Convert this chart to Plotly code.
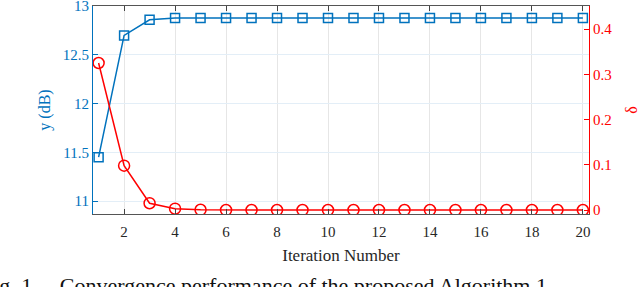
import plotly.graph_objects as go

iterations = list(range(1, 21))
y_db = [11.45, 12.70, 12.86, 12.88, 12.88, 12.88, 12.88, 12.88, 12.88, 12.88,
        12.88, 12.88, 12.88, 12.88, 12.88, 12.88, 12.88, 12.88, 12.88, 12.88]
delta = [0.325, 0.098, 0.015, 0.003, 0.0005, 0, 0, 0, 0, 0,
         0, 0, 0, 0, 0, 0, 0, 0, 0, 0]
x_ticks = [2, 4, 6, 8, 10, 12, 14, 16, 18, 20]
y_ticks = [11, 11.5, 12, 12.5, 13]
d_ticks = [0, 0.1, 0.2, 0.3, 0.4]

BLUE = "#0072BD"
RED = "#FF0000"
FONT = "Liberation Serif"

fig = go.Figure()
fig.add_trace(go.Scatter(
    x=iterations, y=y_db, mode="lines+markers",
    line=dict(color=BLUE, width=1.5),
    marker=dict(symbol="square-open", size=9, color=BLUE, line=dict(width=1.5)),
    yaxis="y", showlegend=False))
fig.add_trace(go.Scatter(
    x=iterations, y=delta, mode="lines+markers",
    line=dict(color=RED, width=1.5),
    marker=dict(symbol="circle-open", size=11, color=RED, line=dict(width=1.5)),
    yaxis="y2", showlegend=False))

fig.update_layout(
    width=640, height=287,
    margin=dict(l=93, r=51, t=6, b=73, autoexpand=False),
    paper_bgcolor="white", plot_bgcolor="white",
    font=dict(family=FONT, size=15, color="#262626"),
    xaxis=dict(
        range=[0.78, 20.24], tickvals=x_ticks, ticks="inside", ticklen=5,
        showline=True, linecolor="#555555", linewidth=1, mirror="ticks",
        showgrid=True, gridcolor="#E6E6E6", zeroline=False, automargin=False,
        ticklabelstandoff=4,
        tickfont=dict(family=FONT, size=15, color="#262626"),
        title=dict(text="Iteration Number", font=dict(family=FONT, size=17, color="#262626"), standoff=10),
    ),
    yaxis=dict(
        range=[10.867, 13.002], tickvals=y_ticks, ticktext=["11", "11.5", "12", "12.5", "13"],
        ticks="inside", ticklen=5, tickcolor=BLUE, ticklabeloverflow="allow",
        showline=True, linecolor=BLUE, linewidth=1, automargin=False,
        showgrid=True, gridcolor="#E3EEF7", zeroline=False,
        tickfont=dict(family=FONT, size=15, color=BLUE),
        title=dict(text="y (dB)", font=dict(family=FONT, size=16, color=BLUE), standoff=8),
    ),
    yaxis2=dict(
        range=[-0.0088, 0.451], tickvals=d_ticks, overlaying="y", side="right",
        ticks="inside", ticklen=5, tickcolor=RED, ticklabeloverflow="allow",
        showline=True, linecolor=RED, linewidth=1, automargin=False,
        showgrid=False, zeroline=False,
        tickfont=dict(family=FONT, size=15, color=RED),
        title=dict(text="δ", font=dict(family=FONT, size=16, color=RED), standoff=16),
    ),
    annotations=[dict(
        text="Fig. 1.&nbsp;&nbsp;&nbsp;&nbsp;Convergence performance of the proposed Algorithm 1.",
        xref="paper", yref="paper", x=-0.230, y=-0.276, xanchor="left", yanchor="top",
        showarrow=False, font=dict(family=FONT, size=22, color="#111111"))],
)

fig.write_html("out.html", config={"displayModeBar": False},
               post_script="document.body.style.margin='0';document.body.style.overflow='hidden';")
